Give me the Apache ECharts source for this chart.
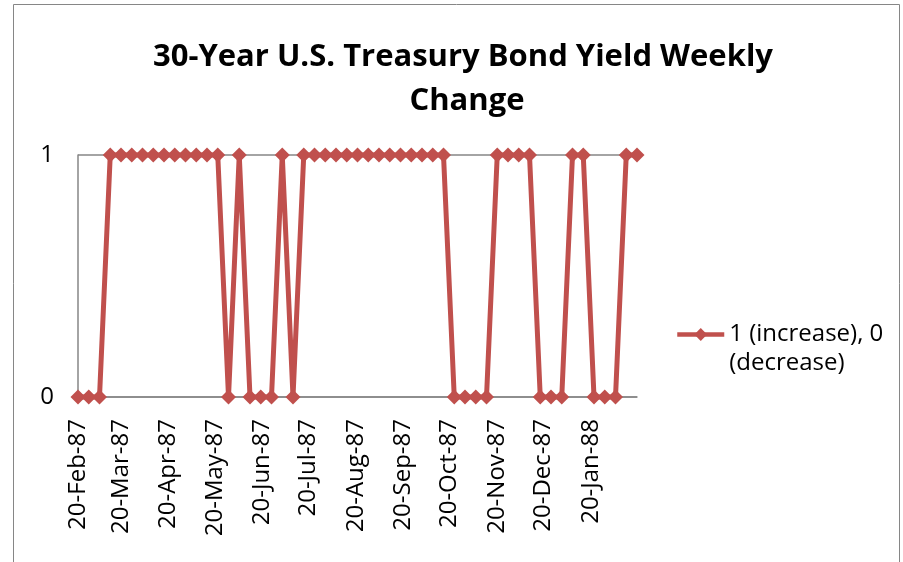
<!DOCTYPE html>
<html>
<head>
<meta charset="utf-8">
<script src="https://cdn.jsdelivr.net/npm/echarts@6/dist/echarts.min.js"></script>
<style>
  html, body { margin: 0; padding: 0; background: #ffffff; }
  #chart { width: 903px; height: 562px; }
</style>
</head>
<body>
<div id="chart"></div>
<script>
// Chart text
const chartTitle = '30-Year U.S. Treasury Bond Yield Weekly Change';
const seriesName = '1 (increase), 0 (decrease)';

// Weekly observation dates (Fridays)
const obsDates = [
  '1987-02-20', '1987-02-27', '1987-03-06', '1987-03-13', '1987-03-20', '1987-03-27',
  '1987-04-03', '1987-04-10', '1987-04-17', '1987-04-24', '1987-05-01', '1987-05-08',
  '1987-05-15', '1987-05-22', '1987-05-29', '1987-06-05', '1987-06-12', '1987-06-19',
  '1987-06-26', '1987-07-03', '1987-07-10', '1987-07-17', '1987-07-24', '1987-07-31',
  '1987-08-07', '1987-08-14', '1987-08-21', '1987-08-28', '1987-09-04', '1987-09-11',
  '1987-09-18', '1987-09-25', '1987-10-02', '1987-10-09', '1987-10-16', '1987-10-23',
  '1987-10-30', '1987-11-06', '1987-11-13', '1987-11-20', '1987-11-27', '1987-12-04',
  '1987-12-11', '1987-12-18', '1987-12-25', '1988-01-01', '1988-01-08', '1988-01-15',
  '1988-01-22', '1988-01-29', '1988-02-05', '1988-02-12', '1988-02-19'
];

// 1 = yield rose that week, 0 = yield fell
const changeFlags = [
  0, 0, 0, 1, 1, 1,
  1, 1, 1, 1, 1, 1,
  1, 1, 0, 1, 0, 0,
  0, 1, 0, 1, 1, 1,
  1, 1, 1, 1, 1, 1,
  1, 1, 1, 1, 1, 0,
  0, 0, 0, 1, 1, 1,
  1, 0, 0, 0, 1, 1,
  0, 0, 0, 1, 1
];

// Dates shown under the horizontal axis
const tickDates = [
  '1987-02-20', '1987-03-20', '1987-04-20', '1987-05-20', '1987-06-20', '1987-07-20',
  '1987-08-20', '1987-09-20', '1987-10-20', '1987-11-20', '1987-12-20', '1988-01-20'
];

// Vertical axis ticks
const yTicks = [0, 1];

const monthNames = ['Jan','Feb','Mar','Apr','May','Jun','Jul','Aug','Sep','Oct','Nov','Dec'];
function toTime(s) {
  const p = s.split('-').map(Number);
  return new Date(p[0], p[1] - 1, p[2]).getTime();
}
function fmtDate(t) {
  const d = new Date(t);
  return d.getDate() + '-' + monthNames[d.getMonth()] + '-' + String(d.getFullYear()).slice(2);
}

const FONT = '"Open Sans", "Liberation Sans", sans-serif';
const RED = '#C0504D';
const GREY = '#868686';

const chart = echarts.init(document.getElementById('chart'), null, { renderer: 'canvas' });

chart.setOption({
  backgroundColor: '#ffffff',
  animation: false,
  graphic: [{
    type: 'rect',
    shape: { x: 13.5, y: 4.5, width: 886, height: 600 },
    style: { fill: 'none', stroke: GREY, lineWidth: 1 },
    silent: true
  }],
  title: {
    text: chartTitle,
    left: 462,
    top: 30,
    textAlign: 'center',
    textStyle: {
      fontFamily: FONT,
      fontWeight: 'bold',
      fontSize: 31,
      color: '#000000',
      lineHeight: 44,
      width: 700,
      overflow: 'break'
    }
  },
  legend: {
    orient: 'vertical',
    left: 670,
    top: 286,
    itemWidth: 47,
    itemHeight: 16,
    data: [seriesName],
    lineStyle: { width: 4.5 },
    // first line of the label sits level with the marker
    formatter: (name) => '{pad| }\n' + name.replace(', 0 ', ', 0\n'),
    textStyle: {
      fontFamily: FONT,
      fontSize: 24,
      color: '#000000',
      lineHeight: 29,
      rich: {
        pad: { fontSize: 24, lineHeight: 29 }
      }
    }
  },
  grid: {
    left: 78,
    right: 266,
    top: 155,
    bottom: 165,
    containLabel: false
  },
  xAxis: {
    type: 'value',
    min: toTime(obsDates[0]),
    max: toTime(obsDates[obsDates.length - 1]),
    axisLine: { show: true, lineStyle: { color: GREY, width: 1.5 } },
    axisTick: { show: false },
    splitLine: { show: false },
    axisLabel: {
      customValues: tickDates.map(toTime),
      formatter: (v) => fmtDate(v),
      rotate: 90,
      margin: 22,
      fontFamily: FONT,
      fontSize: 24,
      color: '#000000',
      hideOverlap: false
    }
  },
  yAxis: {
    type: 'value',
    min: yTicks[0],
    max: yTicks[yTicks.length - 1],
    interval: 1,
    axisLine: { show: true, lineStyle: { color: GREY, width: 1.5 } },
    axisTick: { show: false },
    splitLine: { show: true, lineStyle: { color: GREY, width: 1.5 } },
    axisLabel: {
      margin: 24,
      fontFamily: FONT,
      fontSize: 24,
      color: '#000000'
    }
  },
  series: [{
    name: seriesName,
    type: 'line',
    data: obsDates.map((d, i) => [toTime(d), changeFlags[i]]),
    symbol: 'diamond',
    symbolSize: 15,
    showSymbol: true,
    clip: false,
    lineStyle: { color: RED, width: 5 },
    itemStyle: { color: RED }
  }]
});
</script>
</body>
</html>
